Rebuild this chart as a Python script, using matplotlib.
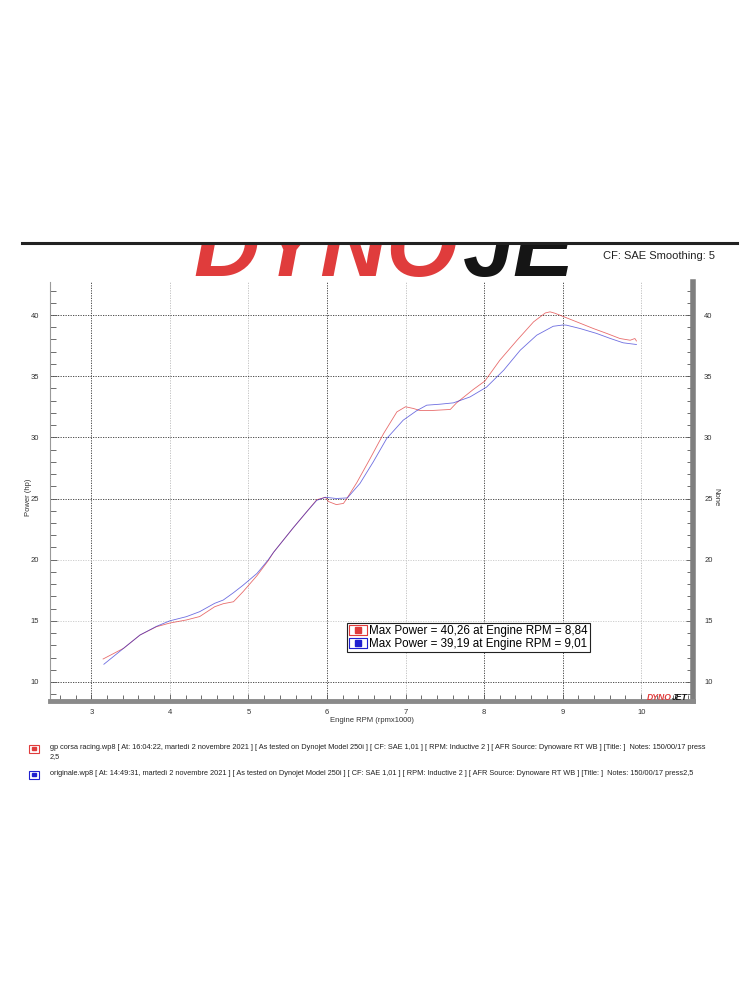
import matplotlib.pyplot as plt
import numpy as np
from matplotlib.lines import Line2D
from matplotlib.patches import Rectangle
from matplotlib.legend_handler import HandlerTuple

plt.rcParams['font.family'] = ['Liberation Sans', 'DejaVu Sans']

# gp corsa racing run
rpm_racing = [3.15, 3.41, 3.62, 3.83, 4.00, 4.21, 4.38, 4.57, 4.68, 4.81, 4.93, 5.11, 5.25, 5.32,
              5.57, 5.74, 5.87, 5.98, 6.02, 6.12, 6.21, 6.25, 6.38, 6.55, 6.72, 6.89, 7.00, 7.10,
              7.18, 7.35, 7.57, 7.65, 7.86, 8.01, 8.20, 8.42, 8.63, 8.78, 8.84, 8.90, 9.00, 9.18,
              9.39, 9.56, 9.73, 9.86, 9.92, 9.94]
hp_racing = [11.88, 12.75, 13.84, 14.52, 14.82, 15.07, 15.35, 16.15, 16.40, 16.56, 17.37, 18.70, 19.90, 20.60,
             22.60, 23.90, 24.90, 25.10, 24.75, 24.50, 24.60, 24.97, 26.30, 28.27, 30.30, 32.08, 32.50, 32.36,
             32.20, 32.20, 32.28, 32.82, 33.90, 34.60, 36.30, 37.94, 39.44, 40.17, 40.26, 40.15, 39.90, 39.44,
             38.90, 38.50, 38.08, 37.94, 38.08, 37.88]

# originale run
rpm_orig = [3.16, 3.41, 3.62, 3.83, 4.00, 4.21, 4.38, 4.57, 4.68, 4.81, 4.93, 5.11, 5.25, 5.32,
            5.57, 5.74, 5.87, 5.98, 6.12, 6.26, 6.42, 6.59, 6.76, 6.97, 7.14, 7.27, 7.44, 7.61,
            7.82, 8.03, 8.25, 8.46, 8.67, 8.88, 9.01, 9.05, 9.22, 9.43, 9.60, 9.77, 9.94]
hp_orig = [11.45, 12.75, 13.84, 14.55, 15.00, 15.34, 15.75, 16.43, 16.70, 17.30, 17.90, 18.88, 19.97, 20.60,
           22.60, 23.90, 24.85, 25.10, 25.00, 25.05, 26.23, 28.00, 29.90, 31.40, 32.17, 32.63, 32.71, 32.82,
           33.30, 34.10, 35.49, 37.12, 38.35, 39.08, 39.19, 39.17, 38.90, 38.50, 38.10, 37.73, 37.59]

legend_labels = ['Max Power = 40,26 at Engine RPM = 8,84',
                 'Max Power = 39,19 at Engine RPM = 9,01']
run_notes = ['gp corsa racing.wp8 [ At: 16:04:22, martedì 2 novembre 2021 ] [ As tested on Dynojet Model 250i ] '
             '[ CF: SAE 1,01 ] [ RPM: Inductive 2 ] [ AFR Source: Dynoware RT WB ] [Title: ]  Notes: 150/00/17 press\n2,5',
             'originale.wp8 [ At: 14:49:31, martedì 2 novembre 2021 ] [ As tested on Dynojet Model 250i ] '
             '[ CF: SAE 1,01 ] [ RPM: Inductive 2 ] [ AFR Source: Dynoware RT WB ] [Title: ]  Notes: 150/00/17 press2,5']

x_grid = [3, 4, 5, 6, 7, 8, 9, 10]
x_grid_dark = [True, False, False, True, False, True, True, False]
y_grid = [10, 15, 20, 25, 30, 35, 40]
y_grid_dark = [True, False, False, True, True, True, True]

red = '#e03c3c'
blue = '#2020d0'

fig = plt.figure(figsize=(7.5, 10), dpi=100)

# header line + logo (cut off at the top like the original print)
fig.add_artist(Line2D([22/750, 737/750], [1-243/1000, 1-243/1000], color='#222222', lw=2.2))
logo = fig.add_axes([190/750, 1-277/1000, 382/750, 32/1000])
logo.set_xlim(0, 1)
logo.set_ylim(0, 1)
logo.axis('off')
logo.text(0.01, 0.02, 'DYNO', color=red, fontsize=66, fontweight='bold', style='italic',
          va='baseline', ha='left', clip_on=True)
logo.text(0.715, 0.02, 'JE', color='#151515', fontsize=66, fontweight='bold', style='italic',
          va='baseline', ha='left', clip_on=True)
fig.text(603/750, 1-256/1000, 'CF: SAE Smoothing: 5', fontsize=8, color='#222222', va='center')

ax = fig.add_axes([50/750, 1-700.7/1000, 643/750, 418.7/1000])
ax.set_xlim(2.474, 10.66)
ax.set_ylim(8.47, 42.7)

for xv, dark in zip(x_grid, x_grid_dark):
    ax.axvline(xv, color='#333333' if dark else '#bbbbbb', lw=0.6, ls=(0, (1.5, 1.5)), zorder=1)
for yv, dark in zip(y_grid, y_grid_dark):
    ax.axhline(yv, color='#333333' if dark else '#c8c8c8', lw=0.6, ls=(0, (1.5, 1.5)), zorder=1)

ax.plot(rpm_racing, hp_racing, color=red, lw=0.6, alpha=0.75, zorder=3)
ax.plot(rpm_orig, hp_orig, color=blue, lw=0.6, alpha=0.65, zorder=3)

ax.spines['top'].set_visible(False)
ax.spines['left'].set_color('#999999')
ax.spines['left'].set_linewidth(0.8)
ax.spines['bottom'].set_color('#8a8a8a')
ax.spines['bottom'].set_linewidth(3.5)
ax.spines['right'].set_color('#7f7f7f')
ax.spines['right'].set_linewidth(4)

ax.set_xticks(x_grid)
ax.set_xticks(np.arange(2.6, 10.61, 0.2), minor=True)
ax.set_yticks(y_grid)
ax.set_yticks(np.arange(9, 42.5, 1), minor=True)
ax.tick_params(axis='both', which='both', direction='in', colors='#555555', labelcolor='#333333',
               labelsize=5.5, width=0.6)
ax.tick_params(axis='y', which='both', left=True, right=True, labelright=True)
ax.tick_params(axis='y', which='major', length=5, pad=8)
ax.tick_params(axis='y', which='minor', length=4)
ax.tick_params(axis='x', which='major', length=5, pad=6)
ax.tick_params(axis='x', which='minor', length=4)

ax.set_xlabel('Engine RPM (rpmx1000)', fontsize=5.5, color='#333333', labelpad=1)
fig.text(28/750, 1-497/1000, 'Power (hp)', fontsize=5.5, color='#333333', rotation=90,
         ha='center', va='center')
fig.text(716/750, 1-497/1000, 'None', fontsize=5.5, color='#333333', rotation=270,
         ha='center', va='center')

rect_marker = [(-1, -0.6), (1, -0.6), (1, 0.6), (-1, 0.6), (-1, -0.6)]
handles = [(Line2D([], [], marker=rect_marker, ms=13, mfc='white', mec=c, mew=0.8, ls=''),
            Line2D([], [], marker='s', ms=4.5, color=c, ls=''))
           for c in (red, blue)]
leg = ax.legend(handles, legend_labels, handler_map={tuple: HandlerTuple(ndivide=1)},
                loc='upper left', bbox_to_anchor=(0.462, 0.1856), fontsize=8.4,
                fancybox=False, framealpha=1, edgecolor='#222222', borderpad=0.15,
                handlelength=1.5, handletextpad=0.25, labelspacing=0.15, borderaxespad=0)
leg.get_frame().set_linewidth(0.8)

fig.text(672/750, 1-697/1000, 'DYNO', ha='right', va='center', fontsize=6.2,
         fontweight='bold', style='italic', color=red)
fig.text(672/750, 1-697/1000, 'JET', ha='left', va='center', fontsize=6.2,
         fontweight='bold', style='italic', color='#151515')

# run notes
for i, (note, c) in enumerate(zip(run_notes, (red, blue))):
    y = 1 - (748 + 26*i)/1000
    fig.add_artist(Rectangle((29/750, y - 0.0045), 10/750, 0.008, transform=fig.transFigure,
                             fill=False, ec=c, lw=0.8))
    fig.add_artist(Rectangle((32/750, y - 0.002), 4/750, 0.003, transform=fig.transFigure,
                             color=c))
    fig.text(50/750, y + 0.004, note, fontsize=5.3, color='#222222', va='top', linespacing=1.4)

fig.savefig('out.png', dpi=100)
